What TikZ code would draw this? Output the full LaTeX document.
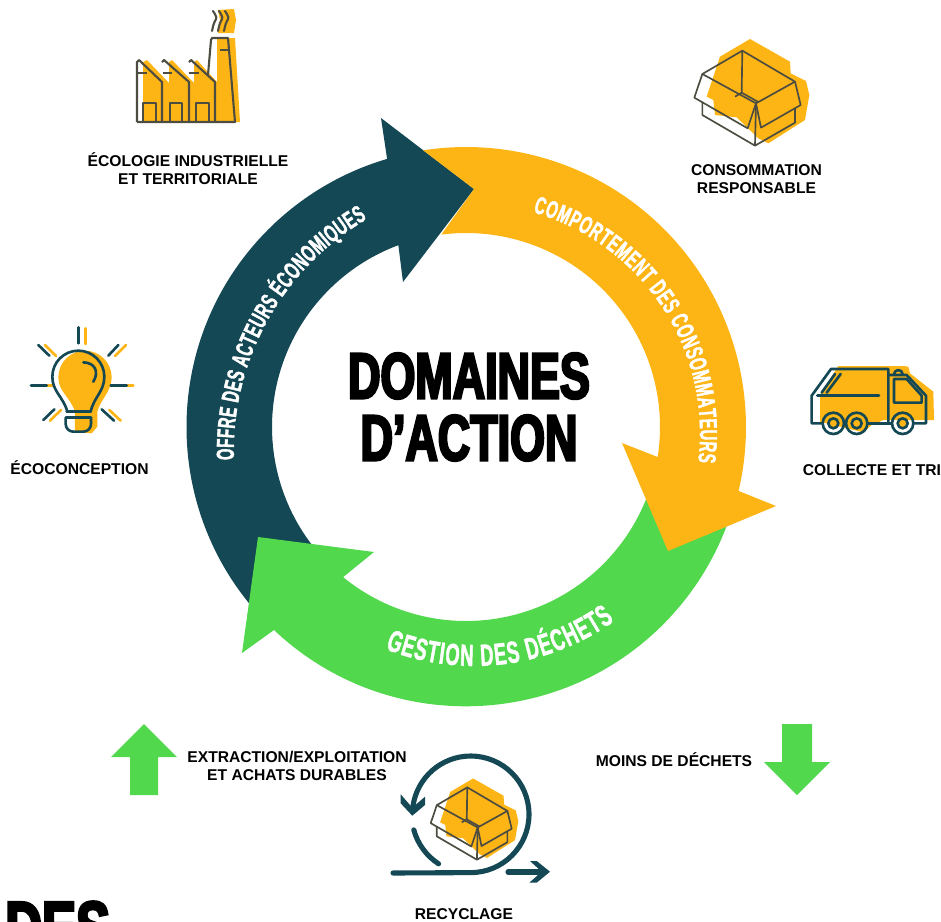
\documentclass[tikz,border=0pt]{standalone}
\usepackage{fontspec}
\setmainfont{Liberation Sans}
\newfontfamily\labelfont{Liberation Sans Bold}
\newfontfamily\heavyfont[FakeStretch=0.69,FakeBold=3.6]{Liberation Sans Bold}
\newfontfamily\bannerfont[FakeStretch=0.6,FakeBold=1.5]{Liberation Sans Bold}
\usetikzlibrary{calc, decorations.text}

\definecolor{navyring}{HTML}{134854}
\definecolor{amberring}{HTML}{FDB515}
\definecolor{greenring}{HTML}{52D84C}
\definecolor{iconline}{HTML}{4C4C40}

\tikzset{
  caption/.style={font=\labelfont\fontsize{8.9}{10.3}\selectfont, align=center, text=black},
  banner/.style={decorate, decoration={text along path, text align=fit to path, text color=white, text={#1}}},
  teal stroke/.style={draw=navyring, line width=1.5pt, line cap=round, line join=round},
  grey stroke/.style={draw=iconline, line width=1.2pt, line join=round},
  thin box/.style={draw=iconline, line width=0.95pt, line join=round},
  % the open carton, in units of a third of a pixel
  boxicon/.pic={
    \fill[amberring] (210,27) -- (330,95) -- (332,130) -- (378,153) -- (388,195) -- (375,270)
      -- (265,340) -- (235,325) -- (170,262) -- (105,255) -- (100,210) -- (80,200) -- (120,80) -- cycle;
    \draw[thin box] (187,62) -- (345,155) -- (228,220) -- (67,132) -- cycle;
    \draw[thin box] (187,62) -- (185,188) -- (235,216);
    \draw[thin box] (185,188) -- (165,200);
    \draw[thin box] (67,132) -- (43,203) -- (203,295) -- (228,220) -- (243,293) -- (362,225) -- (345,155);
    \draw[thin box] (67,215) -- (67,255) -- (225,347) -- (345,278) -- (345,235);
    \draw[thin box] (228,220) -- (225,347);
  }
}

\begin{document}
\begin{tikzpicture}[x=0.02cm, y=-0.02cm]
    \useasboundingbox (0,0) rectangle (941,921);
    \clip (0,0) rectangle (941,921);
    \coordinate (O) at (466,427);
    \coordinate (Onavy) at (502.4,451);
    \coordinate (Oamber) at (470,433.5);
    \coordinate (Ogreen) at (474,425);

    % the dark arrow
    \fill[navyring] (474,189) -- (403,282) -- ($(O)+(249.6:194)$)
      arc[start angle=249.6, end angle=135, radius=194]
      -- ($(O)+(135:279.5)$) arc[start angle=135, end angle=253.6, radius=279.5]
      -- (381,118) -- cycle;

    % the green arrow
    \fill[greenring] (258,537) -- (242,653) -- (274,630)
      arc[start angle=133.4, end angle=17, radius=279]
      -- ($(O)+(17:194)$) arc[start angle=17, end angle=129.3, radius=194]
      -- (374,552) -- cycle;

    % the yellow arrow, its tail cut along the dark head
    \fill[amberring] (474,189) -- ($(O)+(261.2:280)$)
      arc[start angle=261.2, end angle=373.2, radius=280]
      -- (776,506) -- (668,551) -- (622,443) -- ($(O)+(8.9:194)$)
      arc[start angle=8.9, end angle=-97.3, radius=194] -- cycle;

    % texts on the ring
    \path[banner={|\bannerfont\fontsize{14}{15}\selectfont|OFFRE DES ACTEURS ÉCONOMIQUES}]
      ($(Onavy)+(178.1:268.6)$) arc[start angle=178.1, end angle=239.7, radius=268.6];
    \path[banner={|\bannerfont\fontsize{14}{15}\selectfont|COMPORTEMENT DES CONSOMMATEURS}]
      ($(Oamber)+(-74.1:230)$) arc[start angle=-74.1, end angle=7.1, radius=230];
    \path[banner={|\bannerfont\fontsize{17.4}{17.4}\selectfont|GESTION DES DÉCHETS}]
      ($(Ogreen)+(111.6:241)$) arc[start angle=111.6, end angle=54.4, radius=241];

    % centre title
    \node[font=\heavyfont\fontsize{37}{37}\selectfont, anchor=center] (titleA) at (469,376) {DOMAINES};
    \node[font=\heavyfont\fontsize{37}{37}\selectfont, anchor=center] (titleB) at (469,438) {D’ACTION};

    % factory
    \fill[amberring] (143,122) -- (143,62) -- (147,60) -- (169,83) -- (169,62) -- (172,60) -- (194,83)
      -- (194,62) -- (197,60) -- (217,82) -- (217,38) -- (235,38) -- (240,122) -- cycle;
    \fill[amberring] (218,10) -- (234,9) -- (236,20) -- (234,33) -- (218,33) -- (220,20) -- cycle;
    \draw[grey stroke] (137,122) -- (137,62) -- (139,60) -- (162,82) -- (162,122);
    \draw[grey stroke] (162,62) -- (164,60) -- (189,82) -- (189,122);
    \draw[grey stroke] (189,62) -- (191,60) -- (215,82) -- (215,122);
    \draw[grey stroke] (208,75) -- (211,40) -- (212,38) -- (228,38) -- (235,122) -- (137,122);
    \draw[grey stroke] (137,73) -- (147,73) (163,73) -- (172,73) (189,73) -- (199,73) (220,50) -- (229,50);
    \draw[grey stroke] (143,122) -- (143,103) -- (156,103) -- (156,122);
    \draw[grey stroke] (170,122) -- (170,103) -- (182,103) -- (182,122);
    \draw[grey stroke] (196,122) -- (196,103) -- (209,103) -- (209,122);
    \foreach \sx in {214,220,226}
      \draw[grey stroke, line cap=round] (\sx-1,11) .. controls (\sx+3,17) and (\sx+3,18) .. (\sx+1,21)
        .. controls (\sx-1,25) and (\sx-1,27) .. (\sx-2,31);

    % carton
    \pic[scale=1/3] at (680,30) {boxicon};

    % truck
    \begin{scope}[shift={(800,355)}, scale=1/3]
      \fill[amberring] (115,33) -- (310,33) -- (325,35) -- (330,55) -- (400,110) -- (402,195)
        -- (325,195) -- (250,195) -- (215,210) -- (190,232) -- (60,200) -- (60,120) -- cycle;
      \fill[amberring] (100,205) circle[radius=15] (170,205) circle[radius=15] (308,205) circle[radius=15];
      \draw[teal stroke] (68,205) -- (35,205) -- (35,122) -- (93,42) -- (265,42) -- (265,205);
      \draw[teal stroke] (132,205) -- (138,205) (202,205) -- (275,205);
      \draw[teal stroke] (265,60) -- (320,60) -- (378,122) -- (378,205) -- (341,205);
      \draw[teal stroke] (282,72) -- (320,72) -- (365,122) -- (365,143) -- (282,143) -- cycle;
      \draw[teal stroke] (282,58) arc[start angle=180, end angle=360, radius=13];
      \draw[teal stroke] (65,113) -- (105,57) (80,113) -- (122,57);
      \draw[teal stroke] (52,122) -- (237,122);
      \foreach \wx in {100,170,308}{
        \draw[teal stroke] (\wx,205) circle[radius=32];
        \draw[teal stroke] (\wx,205) circle[radius=15];
      }
    \end{scope}

    % bulb
    \begin{scope}[shift={(20,320)}, scale=1/3]
      \fill[amberring] (165,275) .. controls (150,230) and (115,215) .. (115,172)
        arc[start angle=180, end angle=360, radius=80]
        .. controls (275,215) and (240,240) .. (232,275) -- (232,320) -- (215,340) -- (165,335) -- cycle;
      \foreach \ax/\ay/\bx/\by in {196/25/196/72, 75/75/108/108, 318/75/285/108, 80/197/100/197,
          300/196/340/196, 90/302/123/270, 268/270/302/302}
        \draw[amberring, line width=1.5pt, line cap=round] (\ax,\ay) -- (\bx,\by);
      \draw[teal stroke] (142,275) .. controls (130,230) and (97,215) .. (97,170)
        arc[start angle=180, end angle=360, radius=78]
        .. controls (253,215) and (222,230) .. (212,275);
      \draw[teal stroke] (140,275) -- (212,275) (138,293) -- (213,293);
      \draw[teal stroke] (137,293) -- (137,312) arc[start angle=180, end angle=90, radius=23]
        -- (190,335) arc[start angle=90, end angle=0, radius=23] -- (213,293);
      \draw[teal stroke] (190,127) .. controls (225,128) and (238,155) .. (220,185);
      \foreach \ax/\ay/\bx/\by in {175/22/175/70, 55/75/88/107, 295/75/265/107, 33/196/80/196,
          272/196/320/196, 70/300/103/268, 245/268/282/302}
        \draw[teal stroke] (\ax,\ay) -- (\bx,\by);
    \end{scope}

    % recycling loop
    \pic[scale=0.2539] at (419.8,771.6) {boxicon};
    \begin{scope}[line width=2.9pt, line cap=round, line join=round]
      \draw[navyring] (393,873) -- (470.7,872.6) arc[start angle=90, end angle=-172, radius=58.3];
      \draw[navyring] ($(470.7,814.3)+(164.7:59)$) arc[start angle=164.7, end angle=123, radius=59];
      \fill[navyring] (400.7,794.3) -- (400.7,803.3) -- (412.3,815.7) -- (425,805) -- (425,796.7) -- (412.3,807.7) -- cycle;
      \draw[navyring] (508,872) -- (543,872);
      \fill[navyring] (530,861) -- (536.7,861) -- (550,871.7) -- (536.7,882.7) -- (529.3,882.7) -- (541.7,871.7) -- cycle;
    \end{scope}

    % green side arrows
    \fill[greenring] (144,724) -- (177,757) -- (158,757) -- (158,795) -- (130,795) -- (130,757) -- (111,757) -- cycle;
    \fill[greenring] (797,795) -- (830,762) -- (812,762) -- (812,724) -- (782,724) -- (782,762) -- (764,762) -- cycle;

    % labels
    \node[caption] (ecologie) at (188,169) {ÉCOLOGIE INDUSTRIELLE\\ET TERRITORIALE};
    \node[caption] (consommation) at (756.5,179) {CONSOMMATION\\RESPONSABLE};
    \node[caption] (collecte) at (872,470) {COLLECTE ET TRI};
    \node[caption] (ecoconception) at (79.5,468) {ÉCOCONCEPTION};
    \node[caption] (extraction) at (297,766) {EXTRACTION/EXPLOITATION\\ET ACHATS DURABLES};
    \node[caption] (moins) at (674,760) {MOINS DE DÉCHETS};
    \node[caption] (recyclage) at (464,914) {RECYCLAGE};

    % the word cut by the page edge
    \node[font=\heavyfont\fontsize{42}{42}\selectfont, anchor=base west, inner sep=0pt] (cutword) at (5,953) {DES};
\end{tikzpicture}
\end{document}
